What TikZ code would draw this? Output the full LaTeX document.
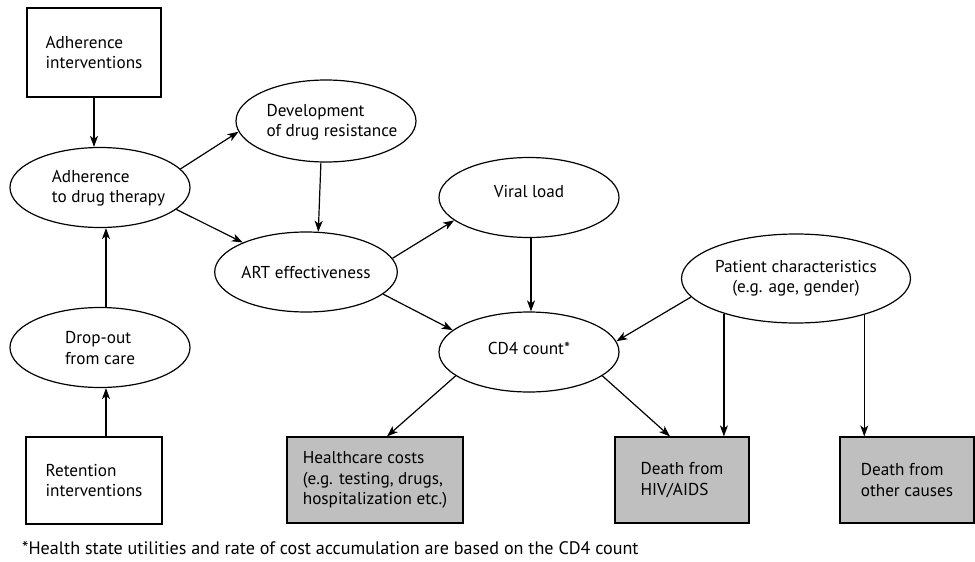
\documentclass[tikz,border=0pt]{standalone}
\usepackage{fontspec}
\setmainfont{PT Sans}
\usetikzlibrary{shapes.geometric,arrows.meta}
\begin{document}
\begin{tikzpicture}[x=1pt,y=-1pt,
  every node/.style={font=\fontsize{17.2}{20.5}\selectfont},
  oval/.style={ellipse,draw,line width=1.2pt,fill=white,inner sep=0pt,
    minimum width=180pt,minimum height=80pt},
  txt/.style={align=left,inner sep=0pt},
  whitebox/.style={rectangle,draw,line width=1.2pt,fill=white,align=left,inner sep=0pt},
  greybox/.style={rectangle,draw,line width=1.2pt,fill=gray!50,align=left,inner sep=0pt},
  arr/.style={line width=1.2pt,-{Stealth[length=11pt,width=8pt,inset=3pt]}}
]
\useasboundingbox (0,0) rectangle (975,562);

% boxes
\node[whitebox,minimum width=134pt,minimum height=89pt] (adhbox) at (94,52.5) {Adherence\\interventions};
\node[whitebox,minimum width=136pt,minimum height=87pt] (retbox) at (94,480.5) {Retention\\interventions};
\node[greybox,minimum width=176pt,minimum height=86pt] (hc) at (375,480) {Healthcare costs\\(e.g. testing, drugs,\\hospitalization etc.)};
\node[greybox,minimum width=134pt,minimum height=86pt] (dhiv) at (682,480) {Death from\\HIV/AIDS};
\node[greybox,minimum width=134pt,minimum height=86pt] (doth) at (907,480) {Death from\\other causes};

% ellipses
\node[oval] (adh) at (100,187.5) {};
\node[txt] (adht) at (108.5,188) {Adherence\\to drug therapy};
\node[oval,minimum height=82pt] (dev) at (326,121) {};
\node[txt] (devt) at (332,122) {Development\\of drug resistance};
\node[oval] (drop) at (100,347.5) {};
\node[txt] (dropt) at (100,348) {Drop-out\\from care};
\node[oval] (art) at (306,272) {ART effectiveness};
\node[oval] (vir) at (529,197.5) {};
\node[txt] (virt) at (529,192) {Viral load};
\node[oval] (cd4) at (529,352) {};
\node[txt] (cd4t) at (529,348) {CD4 count*};
\node[oval,minimum width=190pt,minimum height=89pt,align=center] (pat) at (796,278.5) {Patient characteristics\\(e.g. age, gender)};

% connectors
\draw[arr] (adhbox.south) -- (adhbox.south |- adh.north);
\draw[arr] ([xshift=12pt]retbox.north) -- ([xshift=6pt]drop.south);
\draw[arr] ([xshift=6pt]drop.north) -- ([xshift=6pt]adh.south);
\draw[arr] (adh.13.4) -- (dev.187);
\draw[arr] (adh.-16.7) -- (art.155.6);
\draw[arr] (dev.-97) -- (art.73);
\draw[arr] (art.9.9) -- (vir.197.3);
\draw[arr] ([xshift=2pt]vir.south) -- ([xshift=2pt]cd4.north);
\draw[arr] (art.-16.2) -- (cd4.164);
\draw[arr] (pat.190) -- (cd4.7.7);
\draw[arr] (pat.206.8) -- (pat.206.8 |- dhiv.north);
\draw[arr] (pat.-28.1) -- (pat.-28.1 |- doth.north);
\draw[arr] (cd4.-18.7) -- ([xshift=-12pt]dhiv.north);
\draw[arr] (cd4.198.7) -- ([xshift=12pt]hc.north);

% footnote
\node[anchor=west,inner sep=0pt,font=\fontsize{18.1}{20}\selectfont] (note) at (22,548)
  {*Health state utilities and rate of cost accumulation are based on the CD4 count};
\end{tikzpicture}
\end{document}
